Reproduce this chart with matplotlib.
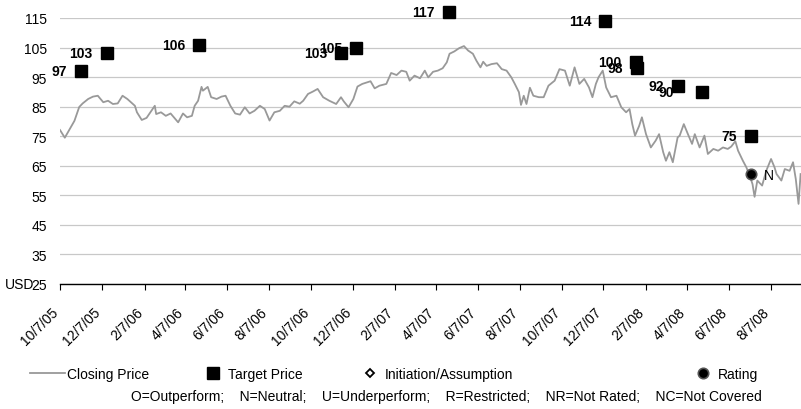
import pandas as pd
import numpy as np
import matplotlib.pyplot as plt
from matplotlib.lines import Line2D
from matplotlib.transforms import ScaledTranslation

plt.rcParams['font.family'] = ['Liberation Sans', 'DejaVu Sans']

# closing price (roughly weekly)
close_dates = [
    "2005-10-07", "2005-10-14", "2005-10-28", "2005-11-04", "2005-11-09", "2005-11-17", "2005-11-24",
    "2005-12-01", "2005-12-09", "2005-12-16", "2005-12-23", "2005-12-30",
    "2006-01-06", "2006-01-13", "2006-01-24", "2006-01-27", "2006-02-03", "2006-02-10", "2006-02-22",
    "2006-02-24", "2006-03-03", "2006-03-10", "2006-03-17", "2006-03-28", "2006-04-04", "2006-04-10",
    "2006-04-17", "2006-04-21", "2006-04-26", "2006-05-01", "2006-05-03", "2006-05-10", "2006-05-15",
    "2006-05-23", "2006-05-30", "2006-06-05", "2006-06-12", "2006-06-19", "2006-06-26", "2006-07-03",
    "2006-07-10", "2006-07-17", "2006-07-25", "2006-08-01", "2006-08-08", "2006-08-15", "2006-08-23",
    "2006-08-30", "2006-09-06", "2006-09-13", "2006-09-21", "2006-09-26", "2006-10-03", "2006-10-10",
    "2006-10-17", "2006-10-25", "2006-11-03", "2006-11-13", "2006-11-20", "2006-11-24", "2006-12-01",
    "2006-12-08", "2006-12-14", "2006-12-21",
    "2007-01-02", "2007-01-08", "2007-01-15", "2007-01-25", "2007-02-01", "2007-02-09", "2007-02-16",
    "2007-02-23", "2007-02-28", "2007-03-07", "2007-03-15", "2007-03-22", "2007-03-27", "2007-04-03",
    "2007-04-10", "2007-04-17", "2007-04-23", "2007-04-27", "2007-05-04", "2007-05-11", "2007-05-18",
    "2007-05-24", "2007-05-31", "2007-06-05", "2007-06-11", "2007-06-15", "2007-06-20", "2007-06-27",
    "2007-07-05", "2007-07-12", "2007-07-19", "2007-07-26", "2007-07-31", "2007-08-06", "2007-08-09",
    "2007-08-13", "2007-08-17", "2007-08-22", "2007-08-27", "2007-09-04", "2007-09-11", "2007-09-18",
    "2007-09-27", "2007-10-04", "2007-10-12", "2007-10-19", "2007-10-26", "2007-11-02", "2007-11-09",
    "2007-11-16", "2007-11-21", "2007-11-26", "2007-11-30", "2007-12-06", "2007-12-11", "2007-12-18",
    "2007-12-26",
    "2008-01-02", "2008-01-09", "2008-01-14", "2008-01-18", "2008-01-22", "2008-01-28", "2008-02-01",
    "2008-02-07", "2008-02-14", "2008-02-21", "2008-02-26", "2008-03-03", "2008-03-07", "2008-03-12",
    "2008-03-17", "2008-03-24", "2008-03-27", "2008-04-02", "2008-04-08", "2008-04-14", "2008-04-18",
    "2008-04-25", "2008-05-02", "2008-05-07", "2008-05-15", "2008-05-22", "2008-05-29", "2008-06-05",
    "2008-06-10", "2008-06-16", "2008-06-20", "2008-06-27", "2008-07-02", "2008-07-07", "2008-07-11",
    "2008-07-14", "2008-07-18", "2008-07-25", "2008-07-31", "2008-08-07", "2008-08-12", "2008-08-15",
    "2008-08-22", "2008-08-27", "2008-09-03", "2008-09-08", "2008-09-12", "2008-09-16", "2008-09-19",
]
close_prices = [
    77.1, 74.5, 80.2, 84.9, 86.1, 87.6, 88.4, 88.7, 86.5, 87.0, 85.9, 86.1,
    88.7, 87.6, 85.3, 83.1, 80.5, 81.2, 85.3, 82.5, 83.1, 81.9, 82.7, 79.7, 82.7, 81.4, 81.9, 85.3,
    87.0, 91.7, 90.4, 91.7, 88.2, 87.6, 88.4, 88.7, 85.3, 82.7, 82.3, 84.8, 82.7, 83.6, 85.3, 84.2,
    80.3, 83.1, 83.6, 85.3, 85.0, 86.8, 86.0, 87.0, 89.3, 90.1, 91.0, 88.2, 87.0, 85.9, 88.2, 86.8,
    84.8, 87.6, 91.8, 92.7,
    93.6, 91.2, 92.1, 92.7, 96.4, 95.7, 97.2, 96.8, 93.8, 95.5, 94.6, 97.2, 94.9, 96.8, 97.2, 98.0,
    100.0, 102.9, 103.7, 104.8, 105.5, 104.0, 102.9, 100.6, 98.3, 100.2, 98.8, 99.4, 99.7, 97.7,
    97.2, 94.9, 92.7, 89.9, 85.6, 88.7, 85.9, 91.4, 88.7, 88.2, 88.2, 92.1, 93.8, 97.7, 97.2, 92.1,
    98.3, 92.7, 94.4, 91.5, 88.2, 92.7, 95.0, 97.2, 91.5, 88.2, 88.7,
    84.8, 83.1, 84.2, 79.1, 75.2, 78.5, 81.4, 75.7, 71.2, 73.5, 75.7, 69.6, 66.7, 69.6, 66.2, 74.6,
    75.2, 79.1, 75.7, 72.4, 75.7, 71.2, 75.2, 69.0, 70.7, 70.1, 71.2, 70.7, 71.5, 73.3, 70.1, 66.7,
    64.5, 61.6, 58.8, 54.5, 60.0, 58.3, 63.3, 67.3, 64.5, 62.2, 60.0, 63.9, 63.3, 66.2, 60.5, 52.1,
    62.2,
]

target_dates = ["2005-11-07", "2005-12-14", "2006-04-28", "2006-11-20", "2006-12-12", "2007-04-26",
                "2007-12-10", "2008-01-23", "2008-01-25", "2008-03-24", "2008-04-28", "2008-07-09"]
target_prices = [97, 103, 106, 103, 105, 117, 114, 100, 98, 92, 90, 75]

rating_dates = ["2008-07-09"]
rating_prices = [62.2]
rating_labels = ["N"]

tick_labels = ["10/7/05", "12/7/05", "2/7/06", "4/7/06", "6/7/06", "8/7/06", "10/7/06", "12/7/06",
               "2/7/07", "4/7/07", "6/7/07", "8/7/07", "10/7/07", "12/7/07", "2/7/08", "4/7/08",
               "6/7/08", "8/7/08"]
y_ticks = [25, 35, 45, 55, 65, 75, 85, 95, 105, 115]

W, H = 801, 410
fig = plt.figure(figsize=(W / 100, H / 100), dpi=100, facecolor='white')
ax = fig.add_axes([60 / W, 1 - 285 / H, 741 / W, 266 / H])

cd = pd.to_datetime(close_dates)
td = pd.to_datetime(target_dates)
rd = pd.to_datetime(rating_dates)

ax.plot(cd, close_prices, color='#999999', lw=1.3, zorder=2)
ax.plot(td, target_prices, ls='none', marker='s', ms=8.5, color='black', zorder=4, clip_on=False)
ax.plot(rd, rating_prices, ls='none', marker='o', ms=7.5, mfc='black', mec='#555555', mew=1.2,
        zorder=5)

# label nudges so overlapping labels look like the original
nudge = {10: -14}
for i, (d, v) in enumerate(zip(td, target_prices)):
    ax.annotate(str(v), (d, v), xytext=(-10 + nudge.get(i, 0) * 0.72, 0), textcoords='offset points',
                ha='right', va='center', fontsize=10, fontweight='bold', zorder=6, annotation_clip=False)
for d, v, lab in zip(rd, rating_prices, rating_labels):
    ax.annotate(lab, (d, v), xytext=(9, -1), textcoords='offset points',
                ha='left', va='center', fontsize=10, zorder=6)

ax.set_ylim(25, 115)
ax.set_yticks(y_ticks)
ax.set_xlim(pd.Timestamp("2005-10-07"), pd.Timestamp("2008-09-19 14:00"))
tick_pos = pd.to_datetime(tick_labels, format="%m/%d/%y")
ax.set_xticks(tick_pos)
ax.set_xticklabels(tick_labels, rotation=45, ha='right', va='top', rotation_mode='anchor')
ax.tick_params(axis='x', length=4, width=0.8, color='black', labelsize=10, pad=3)
ax.tick_params(axis='y', length=0, labelsize=10, pad=9.4)
shift = ScaledTranslation(-9 / 100, -11 / 100, fig.dpi_scale_trans)
for lab in ax.get_xticklabels():
    lab.set_transform(lab.get_transform() + shift)
ax.grid(axis='y', color='#c8c8c8', lw=0.9)
ax.set_axisbelow(True)
for s in ['top', 'right', 'left']:
    ax.spines[s].set_visible(False)
ax.spines['bottom'].set_color('black')
ax.spines['bottom'].set_linewidth(1)
ax.spines['bottom'].set_zorder(3)

fig.text(5 / W, 1 - 285 / H, "USD", ha='left', va='center', fontsize=10)

# legend row
keys = [
    (Line2D([], [], color='#999999', lw=1.3), "Closing Price", 30, 2.5, 0.15),
    (Line2D([], [], ls='none', marker='s', ms=8.5, color='black'), "Target Price", 206, 1.0, 0.55),
    (Line2D([], [], ls='none', marker='D', ms=4, mfc='white', mec='black', mew=1.3),
     "Initiation/Assumption", 363, 1.0, 0.55),
    (Line2D([], [], ls='none', marker='o', ms=7.5, mfc='black', mec='#555555', mew=1.2),
     "Rating", 696, 1.0, 0.55),
]
for h, lab, x0, hl, tp in keys:
    fig.legend(handles=[h], labels=[lab], loc='center left', bbox_to_anchor=(x0 / W, 1 - 375 / H),
               frameon=False, fontsize=10, handlelength=hl, handletextpad=tp, borderpad=0,
               borderaxespad=0)

fig.text(446 / W, 1 - 397 / H,
         "O=Outperform;    N=Neutral;    U=Underperform;    R=Restricted;    NR=Not Rated;    NC=Not Covered",
         ha='center', va='center', fontsize=10)

fig.savefig("out.png", dpi=100)
